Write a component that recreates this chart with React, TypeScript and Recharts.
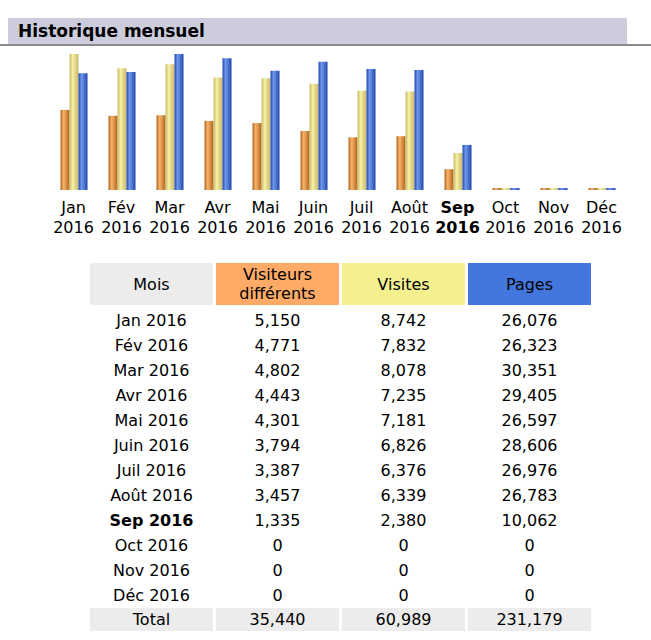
import React from "react";
import { BarChart, Bar, XAxis, YAxis } from "recharts";

const months = ["Jan", "Fév", "Mar", "Avr", "Mai", "Juin", "Juil", "Août", "Sep", "Oct", "Nov", "Déc"];
const year = "2016";
const visitors = [5150, 4771, 4802, 4443, 4301, 3794, 3387, 3457, 1335, 0, 0, 0];
const visits = [8742, 7832, 8078, 7235, 7181, 6826, 6376, 6339, 2380, 0, 0, 0];
const pages = [26076, 26323, 30351, 29405, 26597, 28606, 26976, 26783, 10062, 0, 0, 0];
const currentMonth = 8;
const totals = ["35,440", "60,989", "231,179"];

const data = months.map((m, i) => ({
  month: m,
  visitors: visitors[i],
  visits: visits[i],
  pages: pages[i],
}));

const FONT = "'DejaVu Sans', Verdana, sans-serif";
const fmt = (n: number) => n.toLocaleString("en-US");

function MonthTick(props: any) {
  const { x, y, payload } = props;
  const bold = payload.index === currentMonth;
  return (
    <g>
      <text x={x} y={y + 15} textAnchor="middle" fontSize={16} fontFamily={FONT} fontWeight={bold ? "bold" : "normal"} fill="#000">
        {payload.value}
      </text>
      <text x={x} y={y + 35} textAnchor="middle" fontSize={16} fontFamily={FONT} fontWeight={bold ? "bold" : "normal"} fill="#000">
        {year}
      </text>
    </g>
  );
}

function Grad({ id, edge, mid }: { id: string; edge: string; mid: string }) {
  return (
    <linearGradient id={id} x1="0" y1="0" x2="1" y2="0">
      <stop offset="0%" stopColor={edge} />
      <stop offset="35%" stopColor={mid} />
      <stop offset="100%" stopColor={edge} />
    </linearGradient>
  );
}

const cols = [
  { left: 90, bg: "#ECECEC" },
  { left: 216, bg: "#FFAA66" },
  { left: 342, bg: "#F4F090" },
  { left: 468, bg: "#4477DD" },
];
const colW = 123;

export default function App() {
  return (
    <div style={{ position: "absolute", top: 0, left: 0, width: 651, height: 640, background: "#fff", fontFamily: FONT }}>
      <div style={{ position: "absolute", left: 0, top: 44, width: 651, height: 2, background: "#8a8a8a" }} />
      <div
        style={{
          position: "absolute",
          left: 8,
          top: 18,
          width: 619,
          height: 26,
          background: "#CCCCDD",
          fontWeight: "bold",
          fontSize: 17,
          lineHeight: "26px",
          paddingLeft: 10,
          boxSizing: "border-box",
          color: "#000",
        }}
      >
        Historique mensuel
      </div>

      <div style={{ position: "absolute", left: 0, top: 0 }}>
        <BarChart
          width={651}
          height={250}
          data={data}
          margin={{ top: 54, right: 25.5, bottom: 0, left: 49.5 }}
          barGap={0}
          barSize={9}
        >
          <defs>
            <Grad id="gU" edge="#b0641c" mid="#f7b46a" />
            <Grad id="gV" edge="#c8b868" mid="#f6f0a8" />
            <Grad id="gP" edge="#2046a8" mid="#6f9af0" />
          </defs>
          <XAxis dataKey="month" axisLine={false} tickLine={false} height={60} interval={0} tick={<MonthTick />} />
          <YAxis yAxisId="v" hide domain={[0, 8742]} />
          <YAxis yAxisId="p" hide orientation="right" domain={[0, 30351]} />
          <Bar yAxisId="v" dataKey="visitors" fill="url(#gU)" minPointSize={2} isAnimationActive={false} />
          <Bar yAxisId="v" dataKey="visits" fill="url(#gV)" minPointSize={2} isAnimationActive={false} />
          <Bar yAxisId="p" dataKey="pages" fill="url(#gP)" minPointSize={2} isAnimationActive={false} />
        </BarChart>
      </div>

      {/* table */}
      {cols.map((c, i) => (
        <div
          key={"h" + i}
          style={{
            position: "absolute",
            left: c.left,
            top: 263,
            width: colW,
            height: 42,
            background: c.bg,
            display: "flex",
            alignItems: "center",
            justifyContent: "center",
            textAlign: "center",
            fontSize: 16,
            lineHeight: "19px",
            color: "#000",
          }}
        >
          {i === 0 ? "Mois" : i === 1 ? (<span>Visiteurs<br />différents</span>) : i === 2 ? "Visites" : "Pages"}
        </div>
      ))}
      {months.map((m, r) => {
        const cells = [m + " " + year, fmt(visitors[r]), fmt(visits[r]), fmt(pages[r])];
        return cells.map((t, i) => (
          <div
            key={r + "-" + i}
            style={{
              position: "absolute",
              left: cols[i].left,
              top: 308 + r * 25,
              width: colW,
              height: 25,
              lineHeight: "25px",
              textAlign: "center",
              fontSize: 16,
              fontWeight: r === currentMonth && i === 0 ? "bold" : "normal",
              color: "#000",
            }}
          >
            {t}
          </div>
        ));
      })}
      {["Total", ...totals].map((t, i) => (
        <div
          key={"t" + i}
          style={{
            position: "absolute",
            left: cols[i].left,
            top: 608,
            width: colW,
            height: 23,
            lineHeight: "23px",
            background: "#ECECEC",
            textAlign: "center",
            fontSize: 16,
            color: "#000",
          }}
        >
          {t}
        </div>
      ))}
    </div>
  );
}
